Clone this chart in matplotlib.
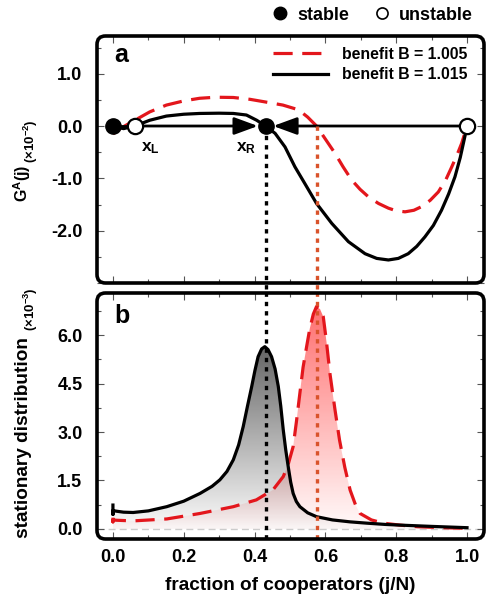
import numpy as np
import matplotlib
matplotlib.use('Agg')
import matplotlib.pyplot as plt
from matplotlib.patches import FancyBboxPatch
from matplotlib.lines import Line2D
from matplotlib.ticker import MultipleLocator

plt.rcParams['font.family'] = ['Liberation Sans', 'DejaVu Sans']
plt.rcParams['font.weight'] = 'bold'
plt.rcParams['axes.labelweight'] = 'bold'
plt.rcParams['mathtext.fontset'] = 'custom'
plt.rcParams['mathtext.rm'] = 'Liberation Sans:bold'
plt.rcParams['mathtext.it'] = 'Liberation Sans:bold'
plt.rcParams['mathtext.bf'] = 'Liberation Sans:bold'
plt.rcParams['mathtext.default'] = 'bf'

# fixed points (fraction of cooperators)
X_L = 0.062
X_R = 0.431
X_R_RED = 0.575

# panel a: gradient of selection G^A(j)  (x10^-2)
x_ga_hi = [0.0, 0.03, 0.062, 0.104, 0.151, 0.2, 0.245, 0.3, 0.34, 0.377, 0.406, 0.431,
           0.458, 0.486, 0.514, 0.542, 0.575, 0.618, 0.665, 0.712, 0.745, 0.778, 0.806,
           0.834, 0.858, 0.881, 0.905, 0.928, 0.948, 0.966, 0.981, 0.994, 1.0]
g_hi = [0.0, -0.05, 0.0, 0.11, 0.19, 0.225, 0.24, 0.245, 0.24, 0.21, 0.11, 0.0,
        -0.14, -0.40, -0.78, -1.10, -1.48, -1.86, -2.21, -2.44, -2.53, -2.56, -2.53,
        -2.44, -2.3, -2.12, -1.9, -1.61, -1.3, -0.97, -0.6, -0.2, 0.0]
x_ga_lo = [0.0, 0.02, 0.062, 0.104, 0.151, 0.2, 0.245, 0.29, 0.34, 0.387, 0.43, 0.48,
           0.524, 0.55, 0.575, 0.6, 0.627, 0.65, 0.674, 0.698, 0.721, 0.75, 0.778, 0.8,
           0.825, 0.85, 0.872, 0.896, 0.919, 0.94, 0.957, 0.972, 0.985, 1.0]
g_lo = [-0.15, -0.05, 0.11, 0.27, 0.4, 0.48, 0.53, 0.55, 0.545, 0.51, 0.46, 0.4,
        0.31, 0.17, 0.0, -0.25, -0.52, -0.78, -1.03, -1.21, -1.35, -1.48, -1.57, -1.62,
        -1.64, -1.61, -1.54, -1.42, -1.26, -1.03, -0.78, -0.55, -0.33, 0.0]

# panel b: stationary distribution (x10^-3)
x_sd_hi = [0.0, 0.0, 0.0, 0.01, 0.03, 0.057, 0.1, 0.152, 0.2, 0.246, 0.28, 0.302, 0.322,
           0.34, 0.355, 0.368, 0.38, 0.392, 0.401, 0.41, 0.42, 0.429, 0.438, 0.448, 0.458,
           0.467, 0.474, 0.481, 0.488, 0.495, 0.502, 0.509, 0.518, 0.528, 0.55, 0.575,
           0.62, 0.67, 0.717, 0.77, 0.81, 0.9, 1.0]
p_hi = [0.74, 0.45, 0.57, 0.55, 0.52, 0.51, 0.56, 0.69, 0.86, 1.10, 1.32, 1.52, 1.78,
        2.14, 2.6, 3.17, 3.8, 4.41, 4.9, 5.33, 5.57, 5.64, 5.55, 5.33, 4.95,
        4.41, 3.8, 3.07, 2.45, 1.93, 1.45, 1.10, 0.85, 0.69, 0.5, 0.38,
        0.28, 0.22, 0.18, 0.14, 0.12, 0.08, 0.04]
x_sd_lo = [0.0, 0.0, 0.0, 0.01, 0.057, 0.152, 0.246, 0.34, 0.405, 0.452, 0.481, 0.495,
           0.509, 0.518, 0.528, 0.537, 0.547, 0.556, 0.566, 0.575, 0.585, 0.594, 0.603,
           0.613, 0.627, 0.64, 0.655, 0.67, 0.685, 0.698, 0.73, 0.764, 0.81, 0.86, 0.93, 1.0]
p_lo = [0.35, 0.22, 0.28, 0.27, 0.25, 0.31, 0.48, 0.69, 0.9, 1.21, 1.62, 2.0,
        2.55, 3.3, 4.2, 5.0, 5.64, 6.2, 6.65, 6.88, 6.8, 6.57, 5.8,
        4.8, 3.7, 2.75, 1.9, 1.2, 0.75, 0.48, 0.28, 0.18, 0.12, 0.07, 0.04, 0.02]

RED = '#e3161c'
RED_DOT = '#d9532b'
W, H = 498, 596
YB_MIN, YB_MAX = -0.31, 7.3

fig = plt.figure(figsize=(W / 100, H / 100), dpi=100)
ax1 = fig.add_axes([97 / W, 1 - 283 / H, 387 / W, 247 / H])
ax2 = fig.add_axes([97 / W, 1 - 539 / H, 387 / W, 246 / H])


def style_axes(ax):
    for s in ax.spines.values():
        s.set_visible(False)
    bw, bh = ax.get_position().width * W, ax.get_position().height * H
    box = FancyBboxPatch((0, 0), 1, 1, boxstyle='round,pad=0,rounding_size=0.022',
                         mutation_aspect=bw / bh, transform=ax.transAxes,
                         fill=False, lw=2.6, ec='k', clip_on=False, zorder=10)
    ax.add_artist(box)
    ax.tick_params(which='both', direction='in', top=True, right=True,
                   color='#555555', width=0.8, labelsize=13, pad=7)
    ax.tick_params(axis='y', pad=10.5)
    ax.tick_params(which='major', length=5)
    ax.tick_params(which='minor', length=3)
    ax.xaxis.set_major_locator(MultipleLocator(0.2))
    ax.xaxis.set_minor_locator(MultipleLocator(0.1))
    ax.set_xlim(-0.045, 1.048)


def grad_fill(ax, x, y, rgb, ytop, amax, z):
    poly, = ax.fill(np.r_[x, x[-1], x[0]], np.r_[y, 0, 0], fc='none', ec='none')
    img = np.zeros((256, 1, 4))
    img[..., :3] = rgb
    img[..., 3] = np.linspace(0.02, amax, 256)[:, None]
    im = ax.imshow(img, extent=[0, 1, 0, ytop], origin='lower', aspect='auto',
                   interpolation='bilinear', zorder=z)
    im.set_clip_path(poly)


# ---- panel a
style_axes(ax1)
ax1.set_ylim(-3.0, 1.72)
ax1.plot(x_ga_lo, g_lo, color=RED, lw=2.3, dashes=(6, 3), zorder=3,
         label='benefit B = 1.005')
ax1.plot(x_ga_hi, g_hi, color='k', lw=2.3, zorder=4, label='benefit B = 1.015')
ax1.plot([0, X_L], [0, 0], color='k', lw=2, zorder=4)
arrow = dict(arrowstyle='-|>,head_length=0.6,head_width=0.22', mutation_scale=24,
             color='k', lw=2, shrinkA=0, shrinkB=5.5)
ax1.annotate('', xy=(X_R, 0), xytext=(X_L, 0), zorder=5, arrowprops=arrow)
ax1.annotate('', xy=(X_R, 0), xytext=(1.0, 0), zorder=5, arrowprops=arrow)
ax1.plot([0, X_R], [0, 0], 'o', ms=11, mfc='k', mec='k', zorder=7, clip_on=False)
ax1.plot([X_L, 1.0], [0, 0], 'o', ms=11, mfc='white', mec='k', mew=1.6, zorder=7,
         clip_on=False)
ax1.text(0.107, -0.42, '$\\mathbf{x_L}$', fontsize=12.5, ha='center', va='center')
ax1.text(0.376, -0.42, '$\\mathbf{x_R}$', fontsize=12.5, ha='center', va='center')
ax1.text(0.044, 0.923, 'a', transform=ax1.transAxes, fontsize=18, va='center')
ax1.set_yticks([-2, -1, 0, 1])
ax1.set_yticklabels(['-2.0', '-1.0', '0.0', '1.0'])
ax1.yaxis.set_minor_locator(MultipleLocator(0.5))
ax1.tick_params(labelbottom=False)
ax1.legend(loc='upper right', bbox_to_anchor=(0.995, 1.015), frameon=False,
           fontsize=11.4, handlelength=3.5, handletextpad=0.9, labelspacing=0.35)

# ---- panel b
style_axes(ax2)
ax2.set_ylim(YB_MIN, YB_MAX)
grad_fill(ax2, x_sd_lo, p_lo, (1.0, 0.15, 0.15), 7.0, 0.68, 1)
grad_fill(ax2, x_sd_hi, p_hi, (0.0, 0.0, 0.0), 7.0, 0.75, 1.5)
ax2.axhline(0, color='#cccccc', lw=1, dashes=(5, 3), zorder=0.5)
ax2.plot(x_sd_lo, p_lo, color=RED, lw=2.3, dashes=(6, 3), zorder=3)
ax2.plot(x_sd_hi, p_hi, color='k', lw=2.3, zorder=4)
ax2.text(0.044, 0.905, 'b', transform=ax2.transAxes, fontsize=18, va='center')
ax2.set_yticks([0, 1.5, 3.0, 4.5, 6.0])
ax2.set_yticklabels(['0.0', '1.5', '3.0', '4.5', '6.0'])
ax2.yaxis.set_minor_locator(MultipleLocator(0.75))
ax2.set_xticks([0, 0.2, 0.4, 0.6, 0.8, 1.0])
ax2.set_xticklabels(['0.0', '0.2', '0.4', '0.6', '0.8', '1.0'])
ax2.set_xlabel('fraction of cooperators (j/N)', fontsize=13.7, labelpad=8)

# dotted guides from panel a down through panel b
for xv, col in [(X_R, 'k'), (X_R_RED, RED_DOT)]:
    pix = ax2.transData.transform((xv, YB_MAX))
    y_end = ax1.transData.inverted().transform(pix)[1]
    ax1.plot([xv, xv], [0, y_end], color=col, lw=2.4, dashes=(1.3, 1.5),
             zorder=6, clip_on=False)
    ax2.plot([xv, xv], [YB_MIN, YB_MAX], color=col, lw=2.4, dashes=(1.3, 1.5),
             zorder=6, clip_on=False)

# y labels with small unit part
fig.text(22 / W, 1 - 202 / H, 'G$^{\\mathbf{A}}$(j)', rotation=90, fontsize=11.5,
         ha='center', va='bottom')
fig.text(31 / W, 1 - 163 / H, '(\u00d710$^{\\mathbf{-2}}$)', rotation=90, fontsize=9.5,
         ha='center', va='bottom')
fig.text(24 / W, 1 - 538 / H, 'stationary distribution', rotation=90, fontsize=13.7,
         ha='center', va='bottom')
fig.text(31 / W, 1 - 331 / H, '(\u00d710$^{\\mathbf{-3}}$)', rotation=90, fontsize=9.5,
         ha='center', va='bottom')

# stable / unstable key
handles = [Line2D([], [], ls='none', marker='o', ms=9, mfc='k', mec='k', label='stable'),
           Line2D([], [], ls='none', marker='o', ms=8, mfc='white', mec='k', mew=1.2,
                  label='unstable')]
fig.legend(handles=handles, loc='center right', bbox_to_anchor=(489 / W, 1 - 15 / H),
           ncol=2, frameon=False, fontsize=12.9, handlelength=1.0, handletextpad=0.45,
           columnspacing=1.35)

fig.savefig('out.png', dpi=100)
